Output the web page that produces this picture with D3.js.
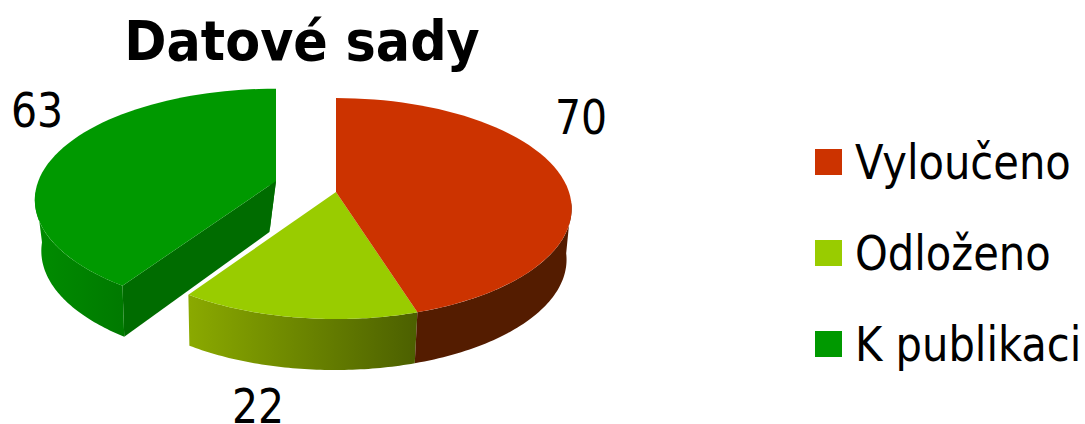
<!DOCTYPE html>
<html>
<head>
  <meta charset="utf-8">
  <title>Datové sady</title>
  <script src="https://d3js.org/d3.v7.min.js"></script>
  <style>
    html, body { margin: 0; padding: 0; background: #fff; overflow: hidden; }
    svg { display: block; }
    text { font-family: "DejaVu Sans Condensed", "DejaVu Sans", sans-serif; font-stretch: condensed; fill: #000; }
  </style>
</head>
<body>
<svg width="1085" height="424"></svg>
<script>
  // Values
  const categories = ["Vyloučeno", "Odloženo", "K publikaci"];
  const values = [70, 22, 63];
  const topColors = ["#cc3300", "#99cc00", "#009900"];
  const titleText = "Datové sady";

  const svg = d3.select("svg");

  // Pie geometry, fake 3D
  const cx = 336, cy = 192, rx = 233, ry = 108, depth = 51;
  // per slice: shift x, shift y, x stretch, perspective
  const explode = [[0, 0, 1, 0.15], [0, 0, 1, 0.15], [-60, -11, 1.02, 0.17]];
  // the bottom rim is a bit narrower than the top one
  const lowRim = [[252, 0.984], [252, 0.984], [155, 0.946]];

  const slices = d3.pie().value(d => d).sort(null)(values);

  // angle on the pie -> screen position, with a bit of perspective
  function project(a, r, i, low) {
    const u = Math.sin(a) * r, v = Math.cos(a) * r;
    const w = 1 + explode[i][3] * v;
    let x = cx + rx * explode[i][2] * u / w + explode[i][0];
    let y = cy - ry * v / w + explode[i][1];
    if (low) {
      x = lowRim[i][0] + (x - lowRim[i][0]) * lowRim[i][1];
      y += depth;
    }
    return [x, y];
  }

  function arcPoints(a0, a1, i, low) {
    return d3.range(0, 61).map(k => project(a0 + (a1 - a0) * k / 60, 1, i, low));
  }

  const line = d3.line();

  const defs = svg.append("defs");
  const grad = defs.append("linearGradient")
    .attr("id", "wallOdlozeno")
    .attr("gradientUnits", "userSpaceOnUse")
    .attr("x1", 190).attr("x2", 416).attr("y1", 0).attr("y2", 0);
  grad.append("stop").attr("offset", "0").attr("stop-color", "#8aa900");
  grad.append("stop").attr("offset", "1").attr("stop-color", "#4c6000");

  const gradGreen = defs.append("linearGradient")
    .attr("id", "wallPublikace")
    .attr("gradientUnits", "userSpaceOnUse")
    .attr("x1", 36).attr("x2", 120).attr("y1", 0).attr("y2", 0);
  gradGreen.append("stop").attr("offset", "0").attr("stop-color", "#008c00");
  gradGreen.append("stop").attr("offset", "1").attr("stop-color", "#007a00");

  const pie = svg.append("g");
  const wallFill = ["#541c00", "url(#wallOdlozeno)", "url(#wallPublikace)"];

  // outer wall of a slice, only the part that faces the viewer
  function wall(i) {
    const d = slices[i];
    const a0 = Math.max(d.startAngle, Math.PI * 0.53);
    const a1 = Math.min(d.endAngle, Math.PI * 1.47);
    const upper = arcPoints(a0, a1, i, false);
    const lower = arcPoints(a0, a1, i, true).reverse();
    pie.append("path")
      .attr("d", line(upper.concat(lower)) + "Z")
      .attr("fill", wallFill[i]);
  }

  // flat cut face from the middle to the rim at angle a
  function cut(i, a, color) {
    pie.append("path")
      .attr("d", line([
        project(a, 0, i, false), project(a, 1, i, false),
        project(a, 1, i, true), project(a, 0, i, true)
      ]) + "Z")
      .attr("fill", color);
  }

  function topFace(i) {
    const d = slices[i];
    pie.append("path")
      .attr("d", line([project(d.startAngle, 0, i, false)].concat(arcPoints(d.startAngle, d.endAngle, i, false))) + "Z")
      .attr("fill", topColors[i]);
  }

  // the pulled out slice goes first, it sits behind the others
  cut(2, slices[2].endAngle, "#007f00");
  cut(2, slices[2].startAngle, "#006c00");
  wall(2);
  topFace(2);

  wall(1);
  wall(0);
  topFace(1);
  topFace(0);

  // Data labels
  const labelPos = [[581, 134], [258, 423], [37, 127]];
  svg.append("g").selectAll("text")
    .data(values)
    .join("text")
      .attr("transform", (d, i) => "translate(" + labelPos[i][0] + "," + labelPos[i][1] + ") scale(0.95,1)")
      .attr("text-anchor", "middle")
      .attr("font-size", 48)
      .text(d => d);

  // Title
  svg.append("text")
    .attr("transform", "translate(302,60) scale(1.01,1)")
    .attr("text-anchor", "middle")
    .attr("font-size", 56)
    .attr("font-weight", "bold")
    .text(titleText);

  // Legend
  const legendY = d3.scalePoint().domain(categories).range([162, 344]);
  const legend = svg.append("g").selectAll("g")
    .data(categories)
    .join("g")
      .attr("transform", d => "translate(815," + legendY(d) + ")");
  legend.append("rect")
    .attr("y", -13)
    .attr("width", 27)
    .attr("height", 26)
    .attr("fill", (d, i) => topColors[i]);
  legend.append("text")
    .attr("transform", "translate(40,17) scale(0.965,1)")
    .attr("font-size", 48)
    .text(d => d);
</script>
</body>
</html>
